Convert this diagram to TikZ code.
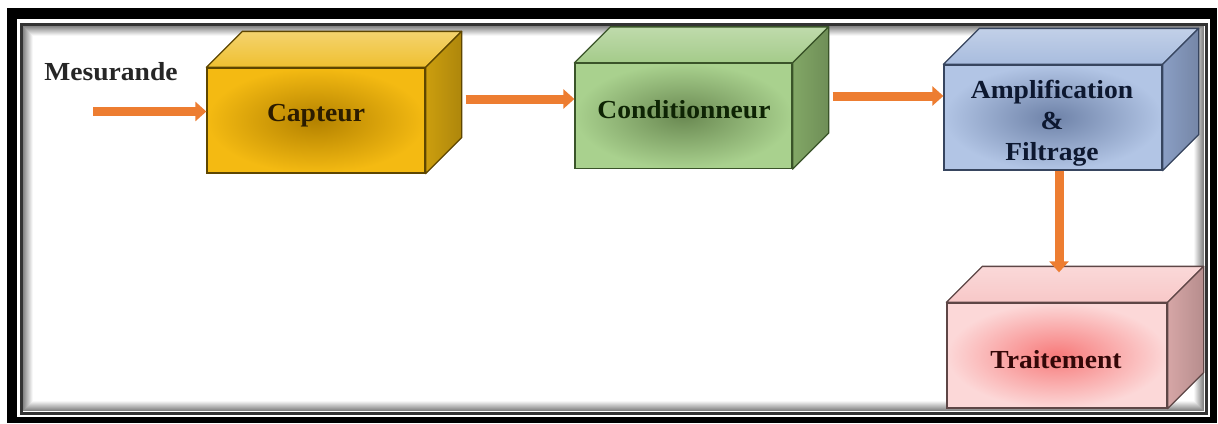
\documentclass[tikz,border=0pt]{standalone}
\usepackage{fontspec}
\setmainfont{Liberation Serif}
\newfontfamily\lblfont[FakeStretch=1.06]{Liberation Serif}
\usetikzlibrary{arrows.meta,calc}

% arrow and block colours
\definecolor{flow}{HTML}{ED7D31}
\definecolor{capOut}{HTML}{F4BA12}\definecolor{capIn}{HTML}{B48200}
\definecolor{capTop}{HTML}{EFC030}\definecolor{capSide}{HTML}{CC9E0E}
\definecolor{capEdge}{HTML}{5E4600}\definecolor{capTxt}{HTML}{2B1C00}
\definecolor{conOut}{HTML}{A9D18E}\definecolor{conIn}{HTML}{6A8952}
\definecolor{conTop}{HTML}{A4CB89}\definecolor{conSide}{HTML}{82A766}
\definecolor{conEdge}{HTML}{3A5429}\definecolor{conTxt}{HTML}{0E2404}
\definecolor{ampOut}{HTML}{B2C5E5}\definecolor{ampIn}{HTML}{6E82A8}
\definecolor{ampTop}{HTML}{A8BCDE}\definecolor{ampSide}{HTML}{8A9EC4}
\definecolor{ampEdge}{HTML}{37455F}\definecolor{ampTxt}{HTML}{0D1830}
\definecolor{traOut}{HTML}{FCD8D8}\definecolor{traIn}{HTML}{F77A7A}
\definecolor{traTop}{HTML}{F8C8C8}\definecolor{traSide}{HTML}{D6A6A6}
\definecolor{traEdge}{HTML}{5E4646}\definecolor{traTxt}{HTML}{330808}

% top and right faces of a block, drawn from its front-face node
% #1 node, #2 top colour, #3 side colour, #4 edge colour
\newcommand\blockdepth[4]{%
  \fill[top color=#2!70!white, bottom color=#2, draw=#4, line width=1.3pt, line join=round]
    (#1.north west) -- ([shift={(36,-36)}]#1.north west)
    -- ([shift={(36,-36)}]#1.north east) -- (#1.north east) -- cycle;
  \fill[left color=#3, right color=#3!85!black, draw=#4, line width=1.3pt, line join=round]
    (#1.north east) -- ([shift={(36,-36)}]#1.north east)
    -- ([shift={(36,-36)}]#1.south east) -- (#1.south east) -- cycle;
}

\begin{document}
\begin{tikzpicture}[x=1pt,y=-1pt,
  front/.style={rectangle, draw, line width=1.3pt, minimum width=218pt,
    minimum height=105pt, inner sep=0pt, shading=radial},
  lbl/.style={font=\lblfont\bfseries\fontsize{26}{31}\selectfont, inner sep=0pt, anchor=base},
  flowarrow/.style={draw=flow, line width=9pt,
    -{Triangle[length=11pt,width=19pt,fill=flow]}}
]
\useasboundingbox (0,0) rectangle (1218,423);

% double frame with an inner shadow
\fill[black] (7,8) rectangle (1217,423);
\fill[white] (17,19) rectangle (1210,417);
\foreach \i [evaluate=\i as \g using 48-5*\i] in {0,...,9}
  \draw[black!\g!white, line width=1pt] (23.5+\i,26.5+\i) rectangle (1203.5-\i,410.5-\i);
\draw[black!80, line width=3pt] (21,24) rectangle (1206,413);

% blocks
\node[front, draw=capEdge, inner color=capIn, outer color=capOut] (cap) at (316,120.5) {};
\blockdepth{cap}{capTop}{capSide}{capEdge}
\node[front, draw=conEdge, inner color=conIn, outer color=conOut, minimum width=217pt] (con) at (683.5,116) {};
\blockdepth{con}{conTop}{conSide}{conEdge}
\node[front, draw=ampEdge, inner color=ampIn, outer color=ampOut] (amp) at (1053,117.5) {};
\blockdepth{amp}{ampTop}{ampSide}{ampEdge}
\node[front, draw=traEdge, inner color=traIn, outer color=traOut, minimum width=220pt] (tra) at (1057,355.5) {};
\blockdepth{tra}{traTop}{traSide}{traEdge}

% labels
\node[lbl, text=black!85] (mes) at (111,80) {Mesurande};
\node[lbl, text=capTxt] (capT) at (316,121) {Capteur};
\node[lbl, text=conTxt] (conT) at (684,118) {Conditionneur};
\node[lbl, text=ampTxt, align=center, anchor=center] (ampT) at (1052,123) {Amplification\\\&\\Filtrage};
\node[lbl, text=traTxt] (traT) at (1056,368) {Traitement};

% signal flow
\coordinate (in) at (93,111.5);
\draw[flowarrow] (in) -- (in -| cap.west);
\draw[flowarrow] ([xshift=40pt,yshift=21.5pt]cap.east) -- ([yshift=17pt]con.west);
\draw[flowarrow] ([xshift=40pt,yshift=20pt]con.east) -- ([yshift=21.5pt]amp.west);
\draw[flowarrow] ([xshift=6pt]amp.south) -- ([xshift=2pt,yshift=30pt]tra.north);
\end{tikzpicture}
\end{document}
